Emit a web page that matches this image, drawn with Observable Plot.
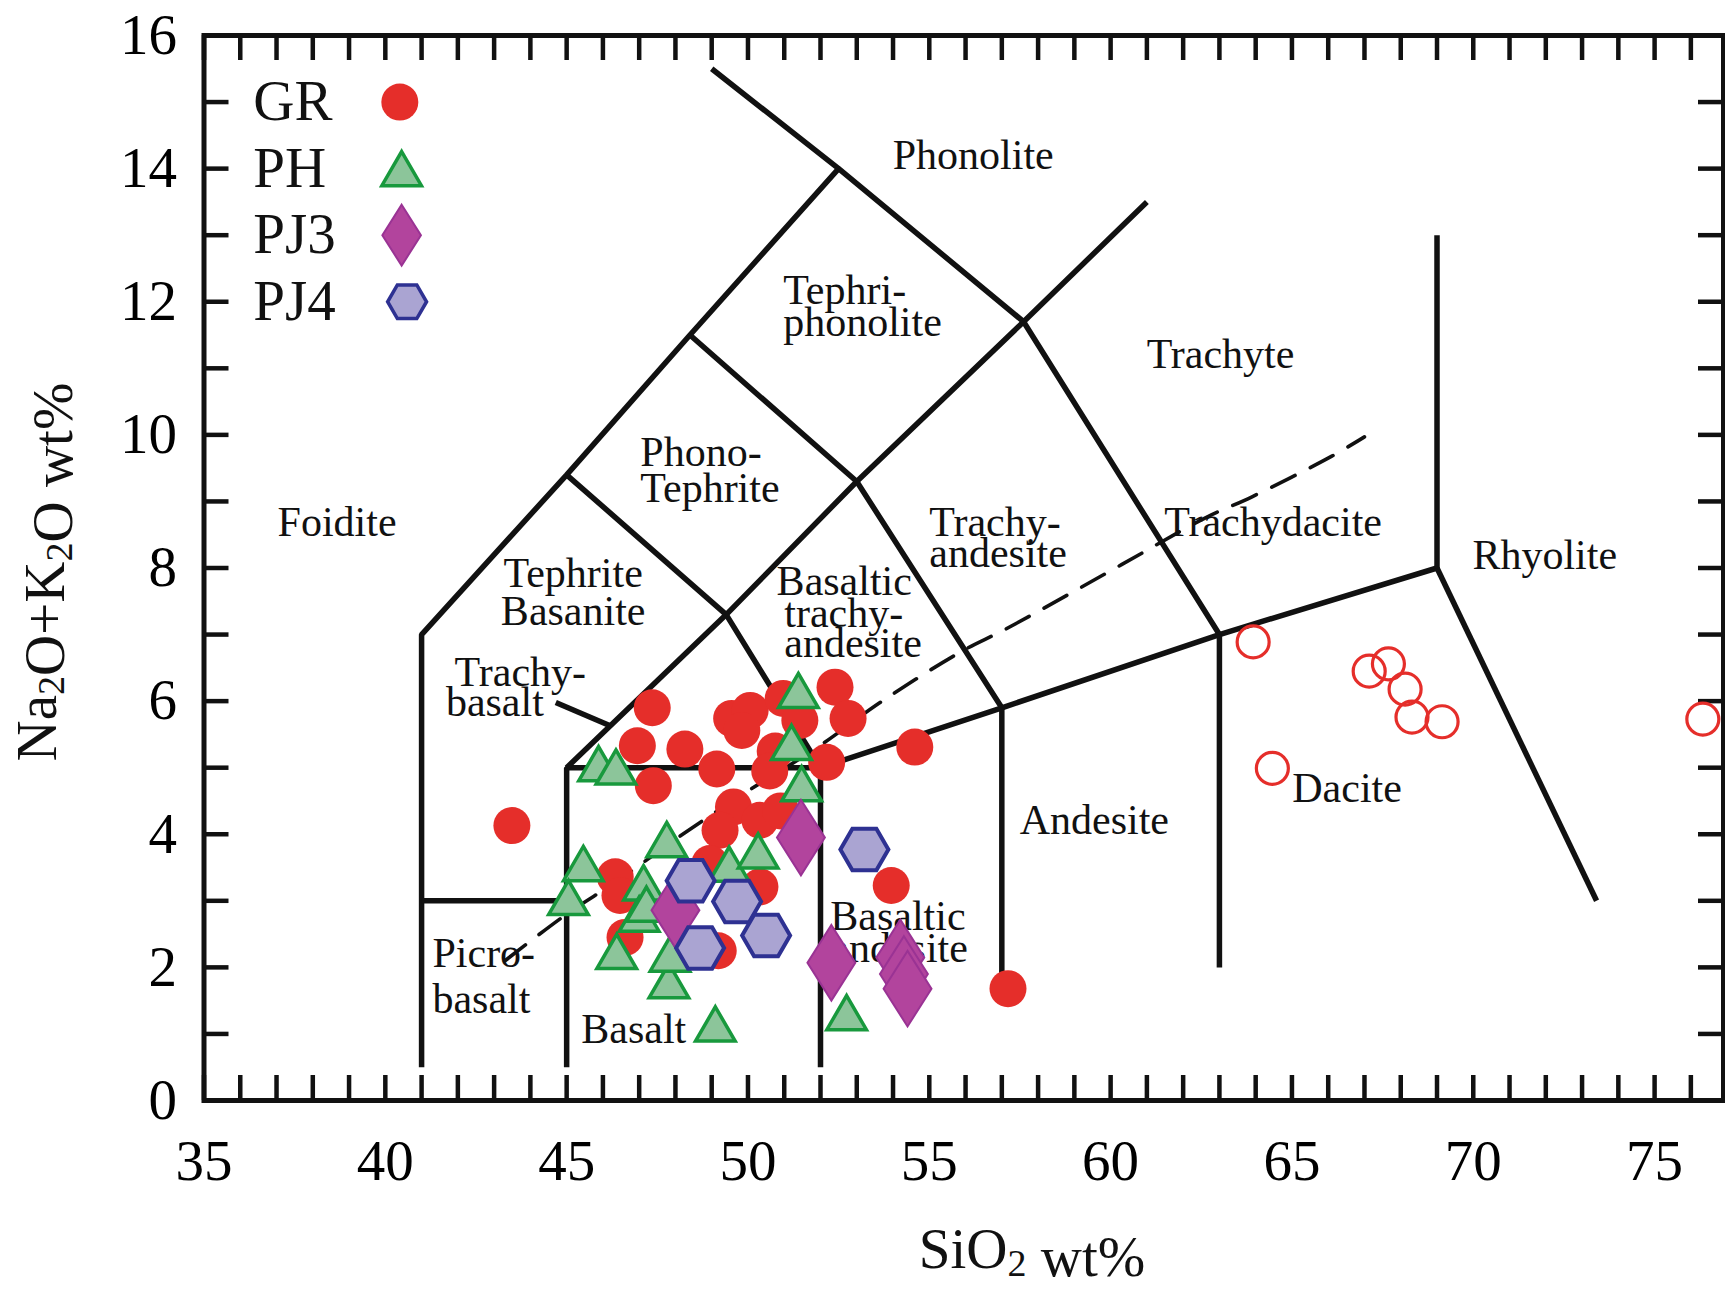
<!DOCTYPE html>
<html><head><meta charset="utf-8">
<script src="https://cdn.jsdelivr.net/npm/d3@7"></script>
<script src="https://cdn.jsdelivr.net/npm/@observablehq/plot@0.6"></script>
<style>html,body{margin:0;padding:0;background:#fff;} svg{display:block}</style>
</head><body><div id="chart"></div>
<script>
// ---- data ----
const grPoints = [[43.49,4.13],[47.36,5.90],[46.95,5.33],[48.26,5.28],[47.39,4.73],[49.14,4.98],[49.55,5.74],[50.06,5.86],[49.83,5.56],[50.97,6.04],[51.43,5.71],[50.75,5.25],[52.40,6.21],[52.76,5.74],[52.17,5.08],[54.60,5.31],[50.6,4.95],[49.6,4.41],[49.23,4.06],[50.33,4.21],[50.9,4.35],[46.34,3.36],[46.47,3.08],[46.61,2.45],[48.95,3.56],[50.33,3.21],[49.18,2.25],[53.95,3.23],[57.17,1.68]];
const grOpenPoints = [[63.93,6.89],[67.13,6.45],[67.66,6.56],[68.12,6.18],[68.31,5.76],[69.14,5.69],[64.46,4.99],[76.33,5.73]];
const phPoints = [[45.88,5.06],[46.36,5.01],[51.39,6.16],[51.20,5.38],[51.48,4.76],[47.76,3.92],[45.46,3.56],[45.05,3.05],[47.12,3.27],[47.0,2.80],[47.2,2.95],[46.38,2.24],[49.48,3.55],[50.28,3.75],[47.82,1.80],[47.85,2.20],[49.10,1.15],[52.72,1.32]];
const pj3Points = [[51.46,3.95],[48.0,2.86],[52.3,2.07],[54.2,2.15],[54.3,1.9],[54.4,1.68]];
const pj4Points = [[48.42,3.30],[49.7,2.99],[50.5,2.48],[48.68,2.29],[53.21,3.77]];

const seriesNames = ["GR","PH","PJ3","PJ4"];

// TAS field boundaries
const boundaries = [
  [[41,0.5],[41,7],[45,9.4],[48.4,11.5],[52.5,14],[49,15.5]],
  [[41,3],[45,3]],
  [[45,0.5],[45,5],[52,5],[52,0.5]],
  [[45,5],[49.4,7.3],[53,9.3],[57.6,11.7],[61,13.5]],
  [[45,9.4],[49.4,7.3],[52,5]],
  [[48.4,11.5],[53,9.3],[57,5.9]],
  [[52.5,14],[57.6,11.7],[63,7]],
  [[52,5],[57,5.9],[63,7],[69,8]],
  [[57,5.9],[57,1.7]],
  [[63,7],[63,2]],
  [[69,8],[69,13]],
  [[69,8],[73.4,3]],
  [[44.7,5.98],[46.2,5.63]]
];
// alkaline / subalkaline dashed divide
const dividePoints = [[43.3,2.1],[45,2.8],[46.4,3.3],[48.2,4.0],[50,4.65],[51.9,5.3],[53.7,6.0],[55.9,6.75],[57.1,7.08],[60.3,8.05],[62.6,8.75],[63.9,9.07],[66.1,9.68],[67,9.97]];

// field labels: text, x, y, anchor
const fieldLabels = [
  ["Phonolite",56.21,14.2,"middle"],
  ["Tephri-",50.97,12.17,"start"],
  ["phonolite",50.97,11.69,"start"],
  ["Phono-",47.03,9.74,"start"],
  ["Tephrite",47.03,9.19,"start"],
  ["Foidite",38.67,8.69,"middle"],
  ["Tephrite",45.18,7.92,"middle"],
  ["Basanite",45.18,7.34,"middle"],
  ["Trachy-",41.91,6.43,"start"],
  ["basalt",41.67,5.98,"start"],
  ["Basaltic",50.79,7.80,"start"],
  ["trachy-",51.0,7.32,"start"],
  ["andesite",51.0,6.86,"start"],
  ["Trachy-",55.0,8.68,"start"],
  ["andesite",55.0,8.21,"start"],
  ["Trachyte",63.03,11.2,"middle"],
  ["Trachydacite",64.48,8.69,"middle"],
  ["Rhyolite",71.97,8.18,"middle"],
  ["Andesite",59.55,4.2,"middle"],
  ["Dacite",66.52,4.69,"middle"],
  ["Basaltic",52.27,2.76,"start"],
  ["andesite",52.27,2.28,"start"],
  ["Picro-",41.3,2.21,"start"],
  ["basalt",41.3,1.52,"start"],
  ["Basalt",46.85,1.07,"middle"]
];

const xTickLabels = [35,40,45,50,55,60,65,70,75];
const yTickLabels = [0,2,4,6,8,10,12,14,16];
const xMinorTicks = d3.range(35,77,1);
const yMinorTicks = d3.range(0,17,1);

// ---- symbols ----
const triSym = {draw(ctx,size){const k=Math.sqrt(size/Math.PI);const w=1.1*k,h=0.95*k;ctx.moveTo(0,-h);ctx.lineTo(w,h);ctx.lineTo(-w,h);ctx.closePath();}};
const diaSym = {draw(ctx,size){const k=Math.sqrt(size/Math.PI);const w=1.33*k,h=2.1*k;ctx.moveTo(0,-h);ctx.lineTo(w,0);ctx.lineTo(0,h);ctx.lineTo(-w,0);ctx.closePath();}};
const hexSym = {draw(ctx,size){const k=Math.sqrt(size/Math.PI);const R=1.333*k;for(let i=0;i<6;i++){const a=i*Math.PI/3;const px=R*Math.cos(a),py=R*Math.sin(a);if(i===0)ctx.moveTo(px,py);else ctx.lineTo(px,py);}ctx.closePath();}};

const RED="#e52e2a", GFILL="#8cc59a", GSTROKE="#18993d", MFILL="#b2449d", MSTROKE="#9a3394", HFILL="#aaa4d2", HSTROKE="#2e3192";

const W=1725, H=1296, mL=203.5, mR=2, mT=35, mB=196;
const innerW=W-mL-mR, innerH=H-mT-mB, tick=25;

const boundaryRows = boundaries.flatMap((seg,i)=>seg.map(p=>({x:p[0],y:p[1],id:i})));
const labelRows = fieldLabels.map(d=>({t:d[0],x:d[1],y:d[2],a:d[3]}));
const legendRows = seriesNames.map((n,i)=>({n, y:15-i}));

const symbolMarks = (pts, opts) => Plot.dot(pts, {x:d=>d[0], y:d=>d[1], ...opts});

const plot = Plot.plot({
  width: W, height: H,
  marginLeft: mL, marginRight: mR, marginTop: mT, marginBottom: mB,
  x: {domain:[35,76.9]},
  y: {domain:[0,16]},
  style: {fontFamily:"'Liberation Serif','Times New Roman',serif", background:"#fff", color:"#000"},
  marks: [
    Plot.text(labelRows.filter(d=>d.a==="middle"), {x:"x", y:"y", text:"t", textAnchor:"middle", fontSize:42, fill:"#111"}),
    Plot.text(labelRows.filter(d=>d.a==="start"), {x:"x", y:"y", text:"t", textAnchor:"start", fontSize:42, fill:"#111"}),
    Plot.line(boundaryRows, {x:"x", y:"y", z:"id", stroke:"#111", strokeWidth:5.5, strokeLinejoin:"miter", strokeLinecap:"butt"}),
    Plot.line(dividePoints, {x:d=>d[0], y:d=>d[1], stroke:"#111", strokeWidth:3.6, strokeDasharray:"26,17", curve:"catmull-rom"}),
    Plot.ruleX(xMinorTicks, {x:d=>d, insetTop: innerH-tick, stroke:"#111", strokeWidth:4.5}),
    Plot.ruleX(xMinorTicks, {x:d=>d, insetBottom: innerH-tick, stroke:"#111", strokeWidth:4.5}),
    Plot.ruleY(yMinorTicks, {y:d=>d, insetRight: innerW-tick, stroke:"#111", strokeWidth:4.5}),
    Plot.ruleY(yMinorTicks, {y:d=>d, insetLeft: innerW-tick, stroke:"#111", strokeWidth:4.5}),
    Plot.frame({stroke:"#111", strokeWidth:5}),
    Plot.axisX({ticks:xTickLabels, tickSize:0, tickPadding:39, fontSize:57, label:null}),
    Plot.axisY({ticks:yTickLabels, tickSize:0, tickPadding:27, fontSize:57, label:null}),
    symbolMarks(grOpenPoints, {r:16, fill:"none", stroke:RED, strokeWidth:3.2}),
    symbolMarks(grPoints, {r:18.5, fill:RED}),
    symbolMarks(phPoints, {r:18, symbol:triSym, fill:GFILL, stroke:GSTROKE, strokeWidth:3.5}),
    symbolMarks(pj3Points, {r:18, symbol:diaSym, fill:MFILL, stroke:MSTROKE, strokeWidth:2}),
    symbolMarks(pj4Points, {r:18, symbol:hexSym, fill:HFILL, stroke:HSTROKE, strokeWidth:4}),
    // legend
    Plot.text(legendRows, {x:36.36, y:"y", text:"n", textAnchor:"start", fontSize:57, fill:"#111"}),
    Plot.dot(legendRows.slice(0,1), {x:40.4, y:"y", r:18.5, fill:RED}),
    Plot.dot(legendRows.slice(1,2), {x:40.45, y:"y", r:18, symbol:triSym, fill:GFILL, stroke:GSTROKE, strokeWidth:3.5}),
    Plot.dot(legendRows.slice(2,3), {x:40.45, y:"y", r:14.5, symbol:diaSym, fill:MFILL, stroke:MSTROKE, strokeWidth:2}),
    Plot.dot(legendRows.slice(3,4), {x:40.6, y:"y", r:14.6, symbol:hexSym, fill:HFILL, stroke:HSTROKE, strokeWidth:3.5})
  ]
});

// axis titles with subscripts
const svg = d3.select(plot);
const ff = "'Liberation Serif','Times New Roman',serif";
function addSubText(g, parts){
  parts.forEach(p=>{
    if(p.sub){
      g.append("tspan").attr("font-size",38).attr("dy",8).text(p.t);
      g.append("tspan").attr("dy",-8).text("");
    } else {
      g.append("tspan").text(p.t);
    }
  });
}
const xl = svg.append("text").attr("x",1032).attr("y",1268).attr("text-anchor","middle")
  .attr("font-family",ff).attr("font-size",57).attr("fill","#111");
addSubText(xl,[{t:"SiO"},{t:"2",sub:true},{t:" wt%"}]);
const yl = svg.append("text").attr("transform","translate(56,572) rotate(-90)").attr("text-anchor","middle")
  .attr("font-family",ff).attr("font-size",57).attr("fill","#111");
addSubText(yl,[{t:"Na"},{t:"2",sub:true},{t:"O+K"},{t:"2",sub:true},{t:"O wt%"}]);

document.getElementById("chart").appendChild(plot);
</script></body></html>
